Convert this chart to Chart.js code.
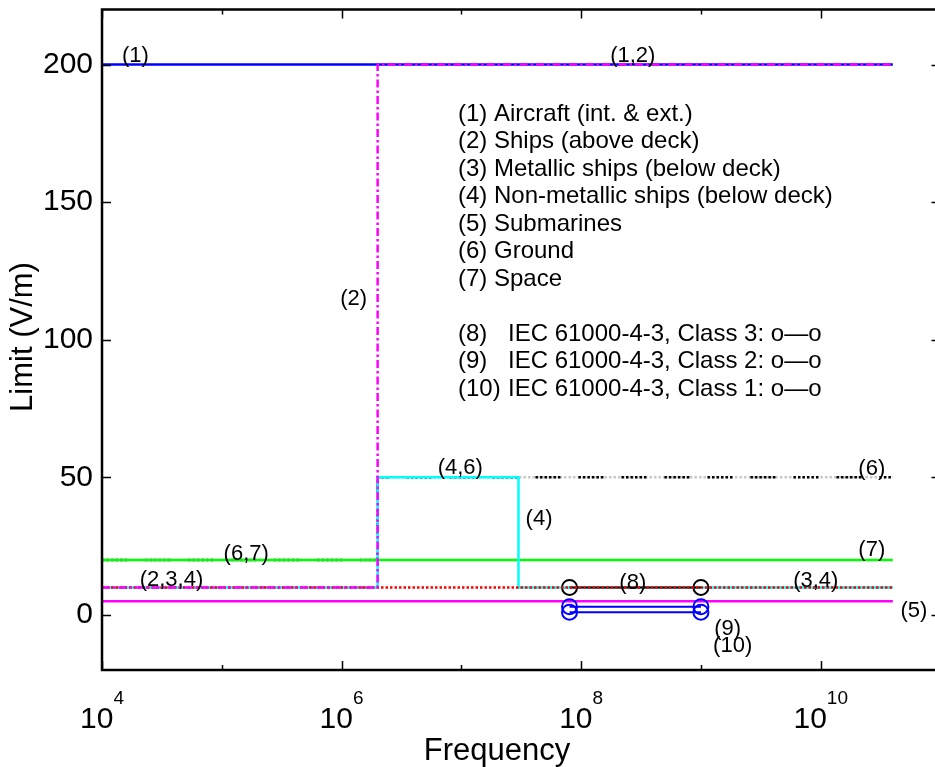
<!DOCTYPE html>
<html>
<head>
<meta charset="utf-8">
<script src="https://cdn.jsdelivr.net/npm/chart.js@4.4.1/dist/chart.umd.min.js"></script>
<style>
  html, body { margin: 0; padding: 0; background: #fff; overflow: hidden; }
  #wrap { width: 950px; height: 767px; }
</style>
</head>
<body>
<div id="wrap"><canvas id="chart" width="950" height="767"></canvas></div>
<script>
// Datos (frecuencia en Hz, límite en V/m)
const aircraftF = [1e4, 40e9];
const aircraftV = [200, 200];
const shipsAboveF = [1e4, 2e6, 2e6, 40e9];
const shipsAboveV = [10, 10, 200, 200];
const metalBelowF = [1e4, 40e9];
const metalBelowV = [10, 10];
const nonMetalF = [1e4, 2e6, 2e6, 30e6, 30e6, 40e9];
const nonMetalV = [10, 10, 50, 50, 10, 10];
const submarineF = [1e4, 40e9];
const submarineV = [5, 5];
const groundF = [1e4, 2e6, 2e6, 40e9];
const groundV = [20, 20, 50, 50];
const spaceF = [1e4, 40e9];
const spaceV = [20, 20];
const iecF = [80e6, 1e9];
const class3V = [10, 10];
const class2V = [3, 3];
const class1V = [1, 1];

const xTicks = [1e4, 1e5, 1e6, 1e7, 1e8, 1e9, 1e10, 1e11];
const xLabelExp = ['4', '6', '8', '10'];
const yTicks = [0, 50, 100, 150, 200];

const legendLines = [
    '(1) Aircraft (int. & ext.)',
    '(2) Ships (above deck)',
    '(3) Metallic ships (below deck)',
    '(4) Non-metallic ships (below deck)',
    '(5) Submarines',
    '(6) Ground',
    '(7) Space'
];
const iecLines = [
    ['(8)', 'IEC 61000-4-3, Class 3: o\u2014o'],
    ['(9)', 'IEC 61000-4-3, Class 2: o\u2014o'],
    ['(10)', 'IEC 61000-4-3, Class 1: o\u2014o']
];

// etiquetas sobre las curvas, en coordenadas de datos
const notes = [
    ['(1)', 1.9e4, 203],
    ['(1,2)', 2.7e8, 203],
    ['(2)', 1.26e6, 115],
    ['(4,6)', 9.8e6, 53.6],
    ['(4)', 4.45e7, 34.8],
    ['(6)', 2.67e10, 53],
    ['(7)', 2.67e10, 23.5],
    ['(6,7)', 1.6e5, 22.3],
    ['(2,3,4)', 3.8e4, 12.8],
    ['(3,4)', 9.1e9, 12.3],
    ['(8)', 2.7e8, 11.7],
    ['(5)', 6e10, 1.3],
    ['(9)', 1.67e9, -4.9],
    ['(10)', 1.84e9, -11.2]
];

function pts(xs, ys) {
    return xs.map((x, i) => ({ x: x, y: ys[i] }));
}

const FONT = '"Liberation Sans", Arial, Helvetica, sans-serif';

function line(data, color, width, dash) {
    return {
        data: data,
        borderColor: color,
        borderWidth: width,
        borderDash: dash || [],
        pointRadius: 0,
        fill: false,
        tension: 0
    };
}

function markers(data, color) {
    return {
        data: data,
        borderColor: color,
        borderWidth: 2,
        pointRadius: 7.5,
        pointStyle: 'circle',
        pointBorderColor: color,
        pointBackgroundColor: 'rgba(0,0,0,0)',
        pointBorderWidth: 2,
        fill: false,
        tension: 0
    };
}

const groundDots = [2.5, 2, 2.5, 2, 2.5, 2, 2.5, 2, 2.5, 2, 2.5, 18];

// orden: el primero queda encima
const datasets = [
    line(pts(shipsAboveF, shipsAboveV), '#ff00ff', 2.5, [8, 3, 2.5, 3]),
    line(pts(aircraftF, aircraftV), '#0000ff', 2.6),
    line(pts(metalBelowF, metalBelowV), '#ff0000', 2.5, [2.5, 2]),
    markers(pts(iecF, class3V), '#000000'),
    markers(pts(iecF, class2V), '#0000ff'),
    markers(pts(iecF, class1V), '#0000ff'),
    line(pts(nonMetalF, nonMetalV), '#00ffff', 2.5),
    line(pts(spaceF, spaceV), '#00ff00', 2.5),
    line(pts(groundF, groundV), '#000000', 2.5, groundDots),
    line(pts(groundF, groundV), '#c8c8c8', 2.5, [2.5, 2]),
    line(pts(submarineF, submarineV), '#ff00ff', 2.5)
];

const frame = {
    id: 'frame',
    afterDraw(chart) {
        const ctx = chart.ctx;
        const a = chart.chartArea;
        const xs = chart.scales.x;
        const ys = chart.scales.y;
        ctx.save();
        ctx.strokeStyle = '#000';
        ctx.lineWidth = 2.5;
        ctx.strokeRect(a.left, a.top, a.right - a.left, a.bottom - a.top);

        ctx.lineWidth = 1.5;
        ctx.beginPath();
        yTicks.forEach(v => {
            const py = Math.round(ys.getPixelForValue(v)) + 0.5;
            ctx.moveTo(a.left, py); ctx.lineTo(a.left + 9, py);
            ctx.moveTo(a.right, py); ctx.lineTo(a.right - 9, py);
        });
        xTicks.forEach(v => {
            const px = Math.round(xs.getPixelForValue(v)) + 0.5;
            const major = Math.round(Math.log10(v)) % 2 === 0;
            const len = major ? 9 : 5;
            ctx.moveTo(px, a.bottom); ctx.lineTo(px, a.bottom - len);
            ctx.moveTo(px, a.top); ctx.lineTo(px, a.top + len);
        });
        ctx.stroke();

        // etiquetas del eje x con exponente
        ctx.fillStyle = '#000';
        ctx.textBaseline = 'alphabetic';
        ctx.textAlign = 'left';
        xLabelExp.forEach(e => {
            const px = xs.getPixelForValue(Math.pow(10, Number(e)));
            ctx.font = '30px ' + FONT;
            const wb = ctx.measureText('10').width;
            ctx.font = '19px ' + FONT;
            const we = ctx.measureText(e).width;
            const x0 = px - (wb + we) / 2;
            ctx.font = '30px ' + FONT;
            ctx.fillText('10', x0, 728);
            ctx.font = '19px ' + FONT;
            ctx.fillText(e, x0 + wb, 704);
        });

        // títulos de ejes
        ctx.font = '31px ' + FONT;
        ctx.textAlign = 'center';
        ctx.fillText('Frequency', 497, 760);
        ctx.save();
        ctx.translate(23, 337);
        ctx.rotate(-Math.PI / 2);
        ctx.textBaseline = 'middle';
        ctx.fillText('Limit (V/m)', 0, 0);
        ctx.restore();

        // etiquetas de curvas
        ctx.font = '22px ' + FONT;
        ctx.textAlign = 'center';
        ctx.textBaseline = 'middle';
        notes.forEach(n => {
            ctx.fillText(n[0], xs.getPixelForValue(n[1]), ys.getPixelForValue(n[2]));
        });

        // leyenda en texto
        ctx.font = '24px ' + FONT;
        ctx.textAlign = 'left';
        const lx = 458, ly = 114, step = 27.5;
        legendLines.forEach((t, i) => ctx.fillText(t, lx, ly + i * step));
        iecLines.forEach((t, i) => {
            const y = ly + (i + 8) * step;
            ctx.fillText(t[0], lx, y);
            ctx.fillText(t[1], 508, y);
        });
        ctx.restore();
    }
};

new Chart(document.getElementById('chart'), {
    type: 'line',
    data: { datasets: datasets },
    options: {
        responsive: false,
        animation: false,
        events: [],
        layout: { padding: { top: 8, right: 8, left: 0, bottom: 0 } },
        plugins: {
            legend: { display: false },
            tooltip: { enabled: false }
        },
        scales: {
            x: {
                type: 'logarithmic',
                min: 1e4,
                max: 1e11,
                afterBuildTicks: s => { s.ticks = xTicks.map(v => ({ value: v })); },
                afterFit: s => { s.height = 97; s.paddingLeft = 0; s.paddingRight = 0; },
                ticks: { display: false },
                grid: { display: false, drawTicks: false },
                border: { display: false }
            },
            y: {
                type: 'linear',
                min: -20,
                max: 220,
                afterBuildTicks: s => { s.ticks = yTicks.map(v => ({ value: v })); },
                afterFit: s => { s.width = 102; s.paddingTop = 0; s.paddingBottom = 0; },
                ticks: {
                    color: '#000',
                    padding: 9,
                    font: { family: FONT, size: 30 }
                },
                grid: { display: false, drawTicks: false },
                border: { display: false }
            }
        }
    },
    plugins: [frame]
});
</script>
</body>
</html>
